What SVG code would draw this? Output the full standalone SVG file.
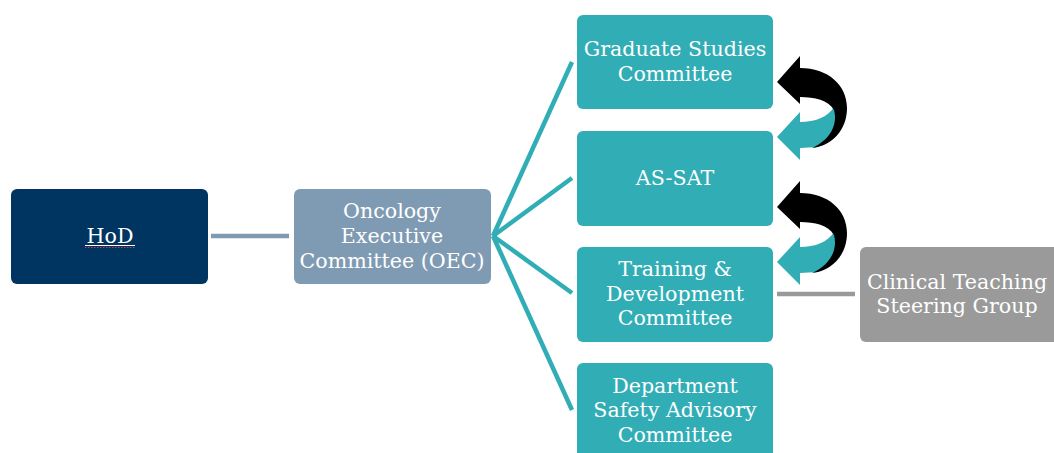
<svg xmlns="http://www.w3.org/2000/svg" width="1054" height="453" viewBox="0 0 1054 453">
<style>
.t{font-family:"DejaVu Serif",Georgia,serif;font-size:20.6px;fill:#ffffff;text-anchor:middle}
.teal{fill:#31adb6}
.ln{fill:none;stroke-width:4.5}
</style>
<defs>
<g id="uturn">
<path fill="#31adb6" d="M777 137 L800 112 L800 122 C815 122 828 117 834 107 C841 120 842 138 818 147 L800 148 L800 160 Z"/>
<path fill="#000000" d="M777 82 L800 56 L800 68 C828 68 847 85 847 108 C847 130 832 146 812 148 C830 140 838 125 834 110 C828 100 815 97 800 97 L800 104 Z"/>
</g>
</defs>
<rect width="1054" height="453" fill="#ffffff"/>
<g id="connectors">
<line class="ln" x1="211" y1="236" x2="289" y2="236" stroke="#7f9bb3"/>
<g stroke="#31adb6" class="ln">
<line x1="493" y1="236" x2="572" y2="62"/>
<line x1="493" y1="236" x2="572" y2="178"/>
<line x1="493" y1="236" x2="572" y2="293"/>
<line x1="493" y1="236" x2="572" y2="410"/>
</g>
<line class="ln" x1="777" y1="294" x2="855" y2="294" stroke="#999999"/>
<use href="#uturn"/>
<use href="#uturn" transform="translate(0,125)"/>
</g>
<g id="hod">
<rect x="11" y="189" width="197" height="95" rx="6" fill="#003562"/>
<text class="t" x="110" y="243">HoD</text>
<line x1="85" y1="245.5" x2="135" y2="245.5" stroke="#ffffff" stroke-width="1"/>
<line x1="85" y1="247.5" x2="135" y2="247.5" stroke="#e03030" stroke-width="1.2" stroke-dasharray="1.5 1.5"/>
</g>
<g id="oec">
<rect x="294" y="189" width="197" height="95" rx="6" fill="#7f9bb3"/>
<text class="t" x="392" y="218">Oncology</text>
<text class="t" x="392" y="243">Executive</text>
<text class="t" x="392" y="268">Committee (OEC)</text>
</g>
<g id="graduate">
<rect class="teal" x="577" y="15" width="196" height="94" rx="6"/>
<text class="t" x="675" y="56">Graduate Studies</text>
<text class="t" x="675" y="81">Committee</text>
</g>
<g id="assat">
<rect class="teal" x="577" y="131" width="196" height="95" rx="6"/>
<text class="t" x="675" y="185">AS-SAT</text>
</g>
<g id="training">
<rect class="teal" x="577" y="247" width="196" height="95" rx="6"/>
<text class="t" x="675" y="276">Training &amp;</text>
<text class="t" x="675" y="301">Development</text>
<text class="t" x="675" y="325">Committee</text>
</g>
<g id="safety">
<rect class="teal" x="577" y="363" width="196" height="100" rx="6"/>
<text class="t" x="675" y="393">Department</text>
<text class="t" x="675" y="417">Safety Advisory</text>
<text class="t" x="675" y="442">Committee</text>
</g>
<g id="clinical">
<rect x="860" y="247" width="200" height="95" rx="6" fill="#9a9a9a"/>
<text class="t" x="957" y="289">Clinical Teaching</text>
<text class="t" x="957" y="313">Steering Group</text>
</g>
</svg>
